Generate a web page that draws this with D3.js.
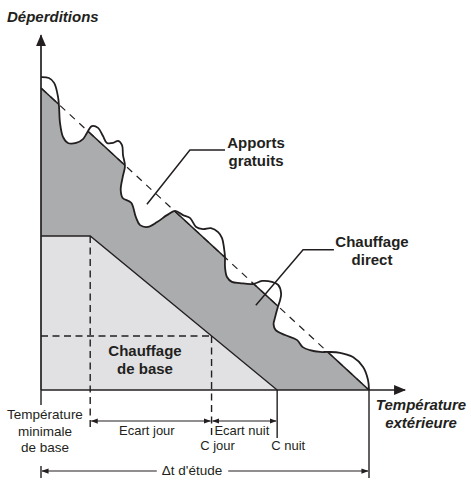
<!DOCTYPE html>
<html>
<head>
<meta charset="utf-8">
<script src="https://cdn.jsdelivr.net/npm/d3@7"></script>
<style>
	body { margin: 0; background: #fff; }
	svg { display: block; font-family: "Liberation Sans", Arial, Helvetica, sans-serif; }
</style>
</head>
<body>
<div id="theChart"></div>
<script>
// schematic values, x = % of the study range, y = % of max losses
const wavy = [
	[0, 103.6], [2.4, 103.3], [4, 101.7], [5.2, 97], [5.5, 93.7], [5.8, 88.4],
	[6.7, 83.8], [8.2, 81.8], [10.7, 81.8], [12.8, 83.1], [14, 85.1], [15.5, 87.4],
	[17.4, 86.8], [18.9, 84.1], [20.1, 81.8], [22, 81.8], [23.5, 82.5], [24.7, 81.1],
	[25, 77.8], [25.6, 74.2], [24.9, 70.5], [24.3, 66.2], [24.9, 63.6], [27.5, 62],
	[28.9, 57.3], [30.2, 54.6], [32.6, 54], [35.4, 55.6], [38.4, 57.9], [40.9, 59.3],
	[43.3, 57.9], [45.4, 57], [47.3, 54], [49.4, 53.3], [51.8, 53.6], [54, 52.3],
	[55.2, 50.3], [55.8, 47], [56.1, 44], [56.1, 40.7], [56.7, 37.4], [58.2, 35.8],
	[60.7, 35.4], [64.6, 35.1], [67.4, 36.1], [70.4, 35.8], [72.3, 34.8], [73.2, 32.1],
	[72.9, 29.8], [72.3, 27.8], [71.3, 23.8], [70.9, 21.8], [71.5, 19.9], [74.4, 18.2],
	[78, 16.6], [79.8, 14.2], [82, 13.2], [85.1, 12.6], [87.5, 12.6], [91.2, 12.3],
	[95.1, 10.9], [98.2, 7.6], [99.7, 3.3], [100, 0]
]
const directLine = [[0, 100], [100, 0]]
const baseLine = [[0, 51], [15, 51], [72, 0]]
// temperatures: T min, start of ecart jour, C jour, C nuit, end of study
const temps = [0, 15, 52, 72, 100]
const spanLabels = ["Ecart jour", "Ecart nuit"]
const pointLabels = ["C jour", "C nuit"]
const tMinLabel = ["Température", "minimale", "de base"]
const xTitle = ["Température", "extérieure"]
const yTitle = "Déperditions"
const studyLabel = "\u0394t d'étude"
const apportsLabel = ["Apports", "gratuits"]
const directLabel = ["Chauffage", "direct"]
const baseLabel = ["Chauffage", "de base"]
// leader lines (data units)
const apportsLeader = [[32.3, 61.5], [45.4, 79.5], [56.1, 79.5]]
const directLeader = [[65.5, 28.1], [79.9, 46.4], [89.3, 46.4]]

const w = 471
const h = 484
const ink = "#231f20"

const x = d3.scaleLinear().domain([0, 100]).range([41, 369])
const y = d3.scaleLinear().domain([0, 100]).range([390, 88])
const y0 = y(0)

const svg = d3.select("#theChart").append("svg")
	.attr("width", w)
	.attr("height", h)

const defs = svg.append("defs")
defs.append("marker")
	.attr("id", "small")
	.attr("viewBox", "0 -4 8 8")
	.attr("refX", 7.5).attr("refY", 0)
	.attr("markerWidth", 7).attr("markerHeight", 7)
	.attr("markerUnits", "userSpaceOnUse")
	.attr("orient", "auto-start-reverse")
	.append("path").attr("d", "M0,-3L8,0L0,3Z").attr("fill", ink)
defs.append("marker")
	.attr("id", "big")
	.attr("viewBox", "0 -6 12 12")
	.attr("refX", 11).attr("refY", 0)
	.attr("markerWidth", 12).attr("markerHeight", 12)
	.attr("markerUnits", "userSpaceOnUse")
	.attr("orient", "auto")
	.append("path").attr("d", "M0,-5L12,0L0,5Z").attr("fill", ink)

const line = d3.line().x(d => x(d[0])).y(d => y(d[1]))
const wavyLine = d3.line().x(d => x(d[0])).y(d => y(d[1])).curve(d3.curveCatmullRom.alpha(0.5))
const underWavy = wavyLine(wavy) + "L" + x(0) + "," + y0 + "Z"

// clip: triangle under the straight line, and region under the wavy curve
defs.append("clipPath").attr("id", "triClip")
	.append("path").attr("d", line([[0, 100], [100, 0], [0, 0]]) + "Z")
defs.append("clipPath").attr("id", "wavyClip")
	.append("path").attr("d", underWavy)

// chauffage direct (dark grey)
svg.append("path")
	.attr("d", underWavy)
	.attr("fill", "#abacae")
	.attr("clip-path", "url(#triClip)")

// chauffage de base (light grey)
svg.append("path")
	.attr("d", line(baseLine.concat([[0, 0]])) + "Z")
	.attr("fill", "#e1e1e3")

// base value at a temperature, on the base line
const baseAt = t => baseLine[1][1] * (baseLine[2][0] - t) / (baseLine[2][0] - baseLine[1][0])

const dash = "7,4.5"
// dashed helpers
svg.append("line")
	.attr("x1", x(temps[0])).attr("x2", x(temps[2]))
	.attr("y1", y(baseAt(temps[2]))).attr("y2", y(baseAt(temps[2])))
	.attr("stroke", ink).attr("stroke-width", 1.4).attr("stroke-dasharray", dash)
svg.append("line")
	.attr("x1", x(temps[1])).attr("x2", x(temps[1]))
	.attr("y1", y(baseLine[1][1])).attr("y2", y0 + 38)
	.attr("stroke", ink).attr("stroke-width", 1.4).attr("stroke-dasharray", dash)
svg.append("line")
	.attr("x1", x(temps[2])).attr("x2", x(temps[2]))
	.attr("y1", y(baseAt(temps[2]))).attr("y2", y0 + 45)
	.attr("stroke", ink).attr("stroke-width", 1.4).attr("stroke-dasharray", dash)

// straight line: dashed everywhere, solid where it bounds the grey area
svg.append("path")
	.attr("d", line(directLine))
	.attr("fill", "none").attr("stroke", ink).attr("stroke-width", 1.2)
	.attr("stroke-dasharray", "7,6")
svg.append("path")
	.attr("d", line(directLine))
	.attr("fill", "none").attr("stroke", ink).attr("stroke-width", 1.6)
	.attr("clip-path", "url(#wavyClip)")

// base line edges
svg.append("path")
	.attr("d", line(baseLine))
	.attr("fill", "none").attr("stroke", ink).attr("stroke-width", 1.3)

// wavy curve
svg.append("path")
	.attr("d", wavyLine(wavy))
	.attr("fill", "none").attr("stroke", ink).attr("stroke-width", 1.8)

// axes
svg.append("line")
	.attr("x1", x(0)).attr("x2", x(111))
	.attr("y1", y0).attr("y2", y0)
	.attr("stroke", ink).attr("stroke-width", 1.7)
	.attr("marker-end", "url(#big)")
svg.append("line")
	.attr("x1", x(0)).attr("x2", x(0))
	.attr("y1", y0).attr("y2", y(117.5))
	.attr("stroke", ink).attr("stroke-width", 1.7)
	.attr("marker-end", "url(#big)")

// verticals below the axis
const drop = (t, y2, y1 = y0) => svg.append("line")
	.attr("x1", x(t)).attr("x2", x(t))
	.attr("y1", y1).attr("y2", y2)
	.attr("stroke", ink).attr("stroke-width", 1.4)
drop(temps[0], y0 + 15)
drop(temps[0], y0 + 88, y0 + 76)
drop(temps[3], y0 + 48)
drop(temps[4], y0 + 88)

// dimension arrows
const dim = (a, b, yy) => svg.append("line")
	.attr("x1", a).attr("x2", b)
	.attr("y1", yy).attr("y2", yy)
	.attr("stroke", ink).attr("stroke-width", 1.1)
	.attr("marker-start", "url(#small)")
	.attr("marker-end", "url(#small)")
dim(x(temps[1]) + 1, x(temps[2]) - 1, y0 + 31)
dim(x(temps[2]) + 1, x(temps[3]) - 1, y0 + 31)

// study range with text in the gap
const studyText = svg.append("text")
	.attr("x", 192).attr("y", y0 + 85)
	.attr("text-anchor", "middle")
	.attr("font-size", 13.5).attr("fill", ink)
	.text(studyLabel)
const half = studyText.node().getComputedTextLength() / 2
svg.append("line")
	.attr("x1", 192 - half - 5).attr("x2", x(temps[0]) + 1)
	.attr("y1", y0 + 81).attr("y2", y0 + 81)
	.attr("stroke", ink).attr("stroke-width", 1.1)
	.attr("marker-end", "url(#small)")
svg.append("line")
	.attr("x1", 192 + half + 6).attr("x2", x(temps[4]) - 1)
	.attr("y1", y0 + 81).attr("y2", y0 + 81)
	.attr("stroke", ink).attr("stroke-width", 1.1)
	.attr("marker-end", "url(#small)")

// small labels
svg.selectAll(".span").data(spanLabels).enter().append("text")
	.attr("x", (d, i) => (x(temps[i + 1]) + x(temps[i + 2])) / 2 - (i ? 2.5 : 4))
	.attr("y", y0 + 45)
	.attr("text-anchor", "middle").attr("font-size", 13).attr("fill", ink)
	.text(d => d)
svg.selectAll(".pt").data(pointLabels).enter().append("text")
	.attr("x", (d, i) => x(temps[i + 2]) + 6 + i * 5)
	.attr("y", y0 + 60)
	.attr("text-anchor", "middle").attr("font-size", 13).attr("fill", ink)
	.text(d => d)
svg.selectAll(".tmin").data(tMinLabel).enter().append("text")
	.attr("x", x(temps[0]) + 4)
	.attr("y", (d, i) => y0 + 29 + i * 16.5)
	.attr("text-anchor", "middle").attr("font-size", 13.5).attr("fill", ink)
	.text(d => d)

// axis titles
svg.append("text")
	.attr("x", 7).attr("y", 22)
	.attr("font-size", 15).attr("font-weight", "bold").attr("font-style", "italic")
	.attr("fill", ink)
	.text(yTitle)
svg.selectAll(".xt").data(xTitle).enter().append("text")
	.attr("x", 421)
	.attr("y", (d, i) => y0 + 20 + i * 18)
	.attr("text-anchor", "middle")
	.attr("font-size", 15).attr("font-weight", "bold").attr("font-style", "italic")
	.attr("fill", ink)
	.text(d => d)

// leaders and bold labels
svg.append("path").attr("d", line(apportsLeader))
	.attr("fill", "none").attr("stroke", ink).attr("stroke-width", 1.5)
svg.append("path").attr("d", line(directLeader))
	.attr("fill", "none").attr("stroke", ink).attr("stroke-width", 1.5)

const bold = (lines, cx, by) => svg.selectAll(null).data(lines).enter().append("text")
	.attr("x", cx)
	.attr("y", (d, i) => by + i * 17.5)
	.attr("text-anchor", "middle")
	.attr("font-size", 15).attr("font-weight", "bold").attr("fill", ink)
	.text(d => d)
bold(apportsLabel, 256, 148)
bold(directLabel, 372, 247)
bold(baseLabel, 145, 356)
</script>
</body>
</html>
